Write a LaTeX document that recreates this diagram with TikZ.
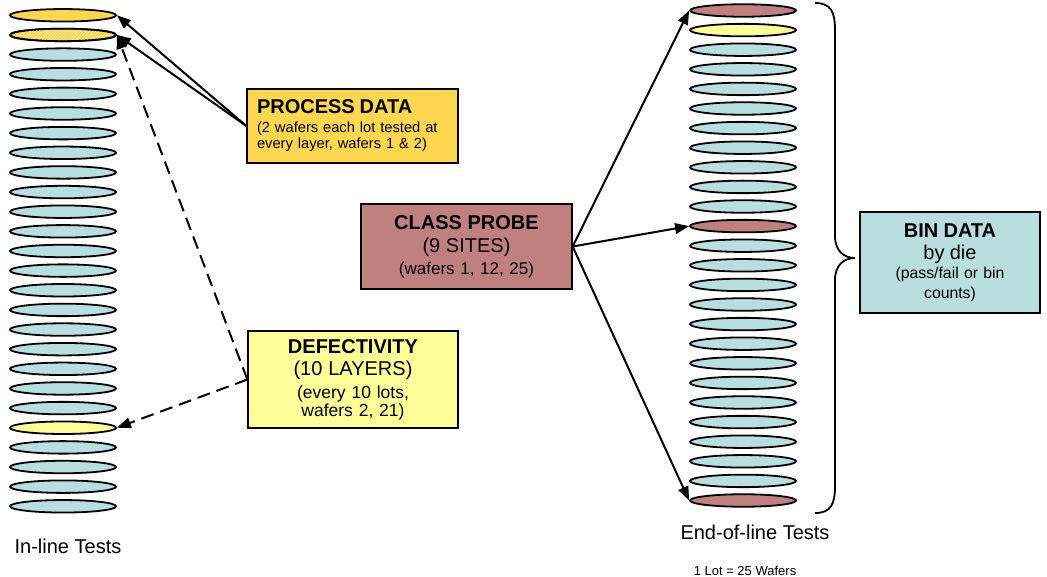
\documentclass[tikz,border=0pt]{standalone}
\usepackage{fontspec}
\setmainfont{Liberation Sans}
\usepackage{tikz}
\usetikzlibrary{shapes.geometric, arrows.meta, positioning, patterns}
\definecolor{waferblue}{HTML}{B8DEE0}
\definecolor{processgold}{HTML}{FFD650}
\definecolor{defectyellow}{HTML}{FFFF99}
\definecolor{probebrown}{HTML}{C08080}
\newcommand{\bigtxt}{\fontsize{20}{22}\selectfont}
\tikzstyle{wafer} = [
    ellipse,
    minimum width=106pt,
    minimum height=12.5pt,
    inner sep=0pt,
    draw=black,
    line width=1.8pt
]
\tikzstyle{hatched} = [
    postaction={pattern=north east lines, pattern color=white!55!processgold, draw=black}
]
\tikzstyle{plain} = []
\tikzstyle{databox} = [
    rectangle,
    draw=black,
    line width=1.3pt,
    inner xsep=5pt,
    align=center
]
\tikzstyle{caption} = [
    inner sep=0pt,
    font=\bigtxt
]
\tikzstyle{arrow} = [
    line width=2pt,
    -{Triangle[length=14pt, width=10.5pt]}
]
\tikzstyle{dasharrow} = [
    arrow,
    dash pattern=on 13pt off 7pt
]

\begin{document}
\begin{tikzpicture}[
    x=1pt,
    y=-1pt
]

\useasboundingbox (0,0) rectangle (1047,577);

\foreach \i in {1,...,26} {
    \def\wcol{waferblue}
    \def\wsty{plain}
    \ifnum\i<3 \def\wcol{processgold}\fi
    \ifnum\i=2 \def\wsty{hatched}\fi
    \ifnum\i=22 \def\wcol{defectyellow}\fi
    \node (left\i) [wafer, fill=\wcol, \wsty] at (63, {15.3+(\i-1)*19.64}) {};
}

\foreach \i in {1,...,26} {
    \def\wcol{waferblue}
    \ifnum\i=1 \def\wcol{probebrown}\fi
    \ifnum\i=2 \def\wcol{defectyellow}\fi
    \ifnum\i=12 \def\wcol{probebrown}\fi
    \ifnum\i=26 \def\wcol{probebrown}\fi
    \node (right\i) [wafer, fill=\wcol] at (743, {10.5+(\i-1)*19.6}) {};
}

\node (process) [databox, fill=processgold, minimum width=211pt, minimum height=74pt,
    text width=191pt, inner xsep=10pt, align=left,
    font=\fontsize{14.7}{16.5}\selectfont] at (352.5,126)
{{\bigtxt\bfseries PROCESS DATA}\\[2pt]
(2 wafers each lot tested at\\
every layer, wafers 1 \& 2)};

\node (defect) [databox, fill=defectyellow, minimum width=210pt, minimum height=97pt,
    text width=200pt, font=\fontsize{17.5}{19}\selectfont] at (353,379.5)
{{\bigtxt\bfseries DEFECTIVITY}\\[3pt]
{\bigtxt (10 LAYERS)}\\[4pt]
(every 10 lots,\\[-1pt]
wafers 2, 21)};

\node (probe) [databox, fill=probebrown, minimum width=211pt, minimum height=85pt,
    text width=201pt, font=\fontsize{17}{19}\selectfont] at (466.5,246.5)
{{\bigtxt\bfseries CLASS PROBE}\\[4pt]
{\bigtxt (9 SITES)}\\[3pt]
(wafers 1, 12, 25)};

\node (bin) [databox, fill=waferblue, minimum width=180pt, minimum height=101pt,
    text width=170pt, font=\fontsize{15.8}{17}\selectfont] at (950,262.5)
{{\bigtxt\bfseries BIN DATA}\\[5pt]
{\bigtxt by die}\\[2pt]
(pass/fail or bin\\[3pt]
counts)};

\node (inline) [caption, below=25.5pt of left26, xshift=5pt]
{In-line Tests};

\node (endline) [caption, below=17.4pt of right26, xshift=12pt]
{End-of-line Tests};

\node (lotsize) [caption, font=\fontsize{13}{15}\selectfont, below=25.4pt of endline, xshift=-10pt]
{1 Lot = 25 Wafers};

\draw [arrow] (process.west) -- (left1.east);

\draw [arrow] (process.west) -- (left2.east);

\draw [dasharrow] (defect.west) -- (left2.east);

\draw [dasharrow] (defect.west) -- (left22.east);

\draw [arrow] (probe.east) -- (right1.west);

\draw [arrow] (probe.east) -- (right12.west);

\draw [arrow] (probe.east) -- (right26.west);

\draw [line width=1.8pt]
(815,3) .. controls (831,3) and (835,12) .. (835,30) -- (835,236)
.. controls (835,251) and (844,258) .. (855,258)
.. controls (844,258) and (835,265) .. (835,280) -- (835,486)
.. controls (835,504) and (831,513) .. (815,513);

\end{tikzpicture}
\end{document}
